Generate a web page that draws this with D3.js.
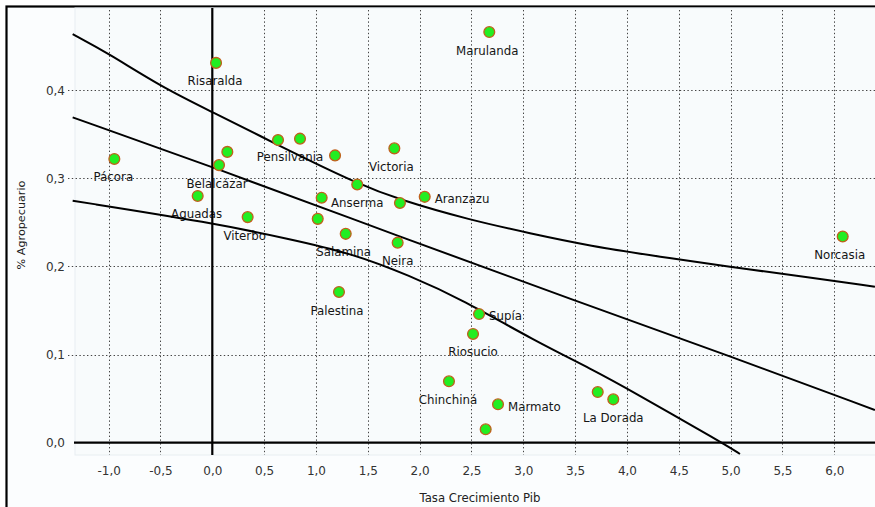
<!DOCTYPE html>
<html>
<head>
<meta charset="utf-8">
<script src="https://cdn.jsdelivr.net/npm/d3@7"></script>
<style>
  html, body { margin: 0; padding: 0; background: #ffffff; }
  svg { display: block; }
  text { font-family: "DejaVu Sans", "Liberation Sans", sans-serif; }
</style>
</head>
<body>
<svg id="chart" width="875" height="507"></svg>
<script>
// ---------------- data ----------------
const names = ["Marulanda", "Risaralda", "", "Pensilvania", "", "Victoria", "", "Belalcázar",
  "Pácora", "Anserma", "Aguadas", "", "", "Aranzazu", "Viterbo", "", "Salamina", "Neira",
  "Norcasia", "Palestina", "Supía", "Riosucio", "Chinchiná", "Marmato", "", "", "La Dorada"];
const growthPib = [2.672, 0.036, 0.634, 0.846, 1.184, 1.756, 0.145, 0.065,
  -0.945, 1.398, -0.141, 1.055, 1.810, 2.049, 0.341, 1.017, 1.287, 1.788,
  6.081, 1.222, 2.573, 2.515, 2.283, 2.756, 2.637, 3.718, 3.868];
const agroShare = [0.466, 0.431, 0.3435, 0.345, 0.326, 0.334, 0.330, 0.315,
  0.322, 0.293, 0.280, 0.278, 0.272, 0.279, 0.256, 0.254, 0.237, 0.227,
  0.234, 0.171, 0.146, 0.1234, 0.0697, 0.0436, 0.0152, 0.0575, 0.0492];

// curves (x, y)
const upperX = [-1.347, -1.003, -0.495, 0.004, 0.508, 0.766, 1.393, 1.811, 2.486, 3.065, 3.643, 4.319, 5.010, 5.604, 6.392];
const upperY = [0.4635, 0.4418, 0.404, 0.3749, 0.3454, 0.330, 0.2943, 0.2754, 0.2527, 0.2376, 0.2232, 0.2111, 0.199, 0.1903, 0.177];
const fitX = [-1.347, 0.0, 1.811, 3.479, 5.010, 6.392];
const fitY = [0.3692, 0.3132, 0.2337, 0.1619, 0.0976, 0.0371];
const lowerX = [-1.347, 0.0, 0.749, 1.328, 1.907, 2.418, 3.096, 3.675, 4.029, 4.926, 5.09];
const lowerY = [0.2746, 0.2496, 0.231, 0.2155, 0.1895, 0.1619, 0.1165, 0.0825, 0.0598, -0.0007, -0.0128];

const xTicks = [-1.0, -0.5, 0.0, 0.5, 1.0, 1.5, 2.0, 2.5, 3.0, 3.5, 4.0, 4.5, 5.0, 5.5, 6.0];
const yTicks = [0.0, 0.1, 0.2, 0.3, 0.4];
const xTitle = "Tasa Crecimiento Pib";
const yTitle = "% Agropecuario";

// label layout (placement: b = below, r = right; nudge in px)
const labelPlace = ["b", "b", "", "b", "", "b", "", "b", "b", "b", "b", "", "", "r", "b", "", "b", "b",
  "b", "b", "r", "b", "b", "r", "", "", "b"];
const labelNudge = [-2, -1, 0, -10, 0, -3, 0, -2, -1, 0, -1, 0, 0, 0, -3, 0, -2, 0,
  -3, -2, 0, 0, -1, 0, 0, 0, 0];

// ---------------- layout ----------------
const svg = d3.select("#chart");
const plotL = 74, plotR = 875, plotT = 8, plotB = 455;

const x = d3.scaleLinear().domain([0, 6]).range([212.3, 834.3]);
const y = d3.scaleLinear().domain([0, 0.4]).range([442.7, 90.2]);
const fmt = v => d3.format(".1f")(v).replace("−", "-").replace(".", ",");

// frame
svg.append("rect").attr("x", 6.5).attr("y", 6.5).attr("width", 900).attr("height", 520)
  .attr("fill", "#fbfdfe").attr("stroke", "#000").attr("stroke-width", 2.2);
// plot background
svg.append("rect").attr("x", plotL + 1).attr("y", plotT).attr("width", plotR - plotL + 10).attr("height", plotB - plotT)
  .attr("fill", "#f8fbfc").attr("stroke", "#e8eef1").attr("stroke-width", 1);

// labels (under grid lines, like the reference)
const pts = names.map((n, i) => ({ name: n, gx: growthPib[i], ay: agroShare[i], place: labelPlace[i], nudge: labelNudge[i] }));
svg.append("g").selectAll("text").data(pts.filter(d => d.name !== "")).join("text")
  .attr("x", d => d.place === "r" ? x(d.gx) + 10 + d.nudge : x(d.gx) + d.nudge)
  .attr("y", d => d.place === "r" ? y(d.ay) + 6.3 : y(d.ay) + 22.5)
  .attr("text-anchor", d => d.place === "r" ? "start" : "middle")
  .attr("font-size", "11.8px").attr("fill", "#151515")
  .text(d => d.name);

// grid
const grid = svg.append("g").attr("stroke", "#444").attr("stroke-width", 1).attr("stroke-dasharray", "1.4,2.4");
grid.selectAll("line.v").data(xTicks).join("line").attr("class", "v")
  .attr("x1", d => Math.round(x(d)) + 0.5).attr("x2", d => Math.round(x(d)) + 0.5)
  .attr("y1", plotT + 2).attr("y2", plotB);
grid.selectAll("line.h").data(yTicks.filter(d => d > 0)).join("line").attr("class", "h")
  .attr("y1", d => Math.round(y(d)) + 0.5).attr("y2", d => Math.round(y(d)) + 0.5)
  .attr("x1", 68).attr("x2", plotR);

// zero axes
svg.append("line").attr("x1", x(0)).attr("x2", x(0)).attr("y1", plotT).attr("y2", plotB)
  .attr("stroke", "#000").attr("stroke-width", 2.2);
svg.append("line").attr("x1", plotL).attr("x2", plotR).attr("y1", y(0)).attr("y2", y(0))
  .attr("stroke", "#000").attr("stroke-width", 2.2);

// tick labels through d3 axes
const gx = svg.append("g").attr("transform", "translate(0,466.5)")
  .call(d3.axisBottom(x).tickValues(xTicks).tickSize(0).tickPadding(0).tickFormat(fmt));
const gy = svg.append("g").attr("transform", "translate(65,0)")
  .call(d3.axisLeft(y).tickValues(yTicks).tickSize(0).tickPadding(0).tickFormat(fmt));
[gx, gy].forEach(g => {
  g.select(".domain").remove();
  g.selectAll("text").attr("font-size", "12px").attr("fill", "#333").attr("font-family", "DejaVu Sans, sans-serif");
});

// titles
svg.append("text").attr("x", 480).attr("y", 502).attr("text-anchor", "middle")
  .attr("font-size", "11.7px").attr("fill", "#222").text(xTitle);
svg.append("text").attr("transform", "translate(25,225) rotate(-90)").attr("text-anchor", "middle")
  .attr("font-size", "11.2px").attr("fill", "#222").text(yTitle);

// curves (clipped to plot area)
svg.append("clipPath").attr("id", "clip").append("rect")
  .attr("x", plotL - 2).attr("y", plotT).attr("width", plotR - plotL + 4).attr("height", plotB - plotT);
const line = d3.line().x(d => x(d[0])).y(d => y(d[1])).curve(d3.curveBasis);
const curves = [d3.zip(upperX, upperY), d3.zip(fitX, fitY), d3.zip(lowerX, lowerY)];
svg.append("g").attr("clip-path", "url(#clip)").selectAll("path").data(curves).join("path")
  .attr("d", line).attr("fill", "none").attr("stroke", "#000").attr("stroke-width", 2);

// points
svg.append("g").selectAll("circle").data(pts).join("circle")
  .attr("cx", d => x(d.gx)).attr("cy", d => y(d.ay)).attr("r", 5.4)
  .attr("fill", "#22ee22").attr("stroke", "#c0601c").attr("stroke-width", 1.3);
</script>
</body>
</html>
